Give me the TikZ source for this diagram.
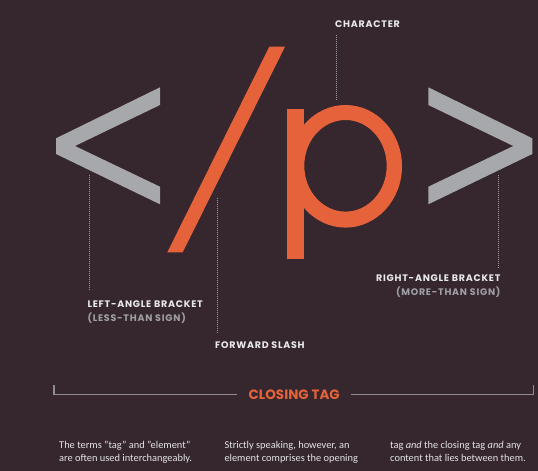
\documentclass[tikz,border=0pt]{standalone}
\usepackage{fontspec}
\setmainfont{Carlito}
\newfontfamily\labfont{Poppins}[LetterSpace=8]
\newfontfamily\tagfont{Poppins}
\usetikzlibrary{positioning,calc}
\definecolor{bgdark}{HTML}{35272D}
\definecolor{tagorange}{HTML}{E5623A}
\definecolor{brgray}{HTML}{A7A8AB}
\definecolor{labwhite}{HTML}{E9E9EE}
\definecolor{subgray}{HTML}{A09FA6}
\definecolor{dotgray}{HTML}{9A9A9E}
\definecolor{linegray}{HTML}{908D92}
\definecolor{bodytext}{HTML}{E4E4E6}

\begin{document}
\begin{tikzpicture}[
  x=1pt, y=-1pt,
  lab/.style={font=\labfont\bfseries\fontsize{9.5}{11}\selectfont, text=labwhite, inner sep=0pt},
  sublab/.style={lab, text=subgray},
  leader/.style={dotgray, line width=0.9pt, dash pattern=on 0.9pt off 1.1pt},
  brk/.style={linegray, line width=1.3pt},
  body/.style={font=\fontsize{10.4}{12.7}\selectfont, text=bodytext, inner sep=0pt, align=left, anchor=north west},
]
\useasboundingbox (0,0) rectangle (538,471);
\fill[bgdark] (0,0) rectangle (538,471);

% === glyphs ===
\fill[brgray] (160,87.3) -- (56,138.3) -- (56,154) -- (160,204.3) -- (160,186.7) -- (75,146) -- (160,105) -- cycle;
\fill[tagorange] (269.3,46.7) -- (285,46.7) -- (182.7,252.3) -- (167.3,252.3) -- cycle;
\fill[tagorange] (286.7,109) rectangle (304.3,259.3);
\fill[tagorange, even odd rule] (345.5,166.3) ellipse [x radius=56.5, y radius=61.3]
  (345.5,165.8) ellipse [x radius=41.2, y radius=45.8];
\fill[brgray] (428.3,87.3) -- (532.3,138.3) -- (532.3,154) -- (428.3,204.3) -- (428.3,186.7) -- (513.3,146) -- (428.3,105) -- cycle;

% === labels ===
\node[lab, anchor=base west] (chlab) at (335,27.3) {CHARACTER};
\node[lab, anchor=base west] (ltlab) at (87.3,307.3) {LEFT-ANGLE BRACKET};
\node[sublab, anchor=base west] (ltsub) at (87.3,321) {(LESS-THAN SIGN)};
\node[lab, anchor=base west] (fslab) at (215,348.3) {FORWARD SLASH};
\node[lab, anchor=base east] (rtlab) at (500.7,281) {RIGHT-ANGLE BRACKET};
\node[sublab, anchor=base east] (rtsub) at (500.7,295) {(MORE-THAN SIGN)};

% leader ends on the glyphs
\coordinate (chend) at (336.7,99.3);
\coordinate (ltend) at (89.3,175);
\coordinate (fsend) at (217.3,198.3);
\coordinate (rtend) at (498.3,175);

\draw[leader, shorten <=7pt] (chend |- chlab.south) -- (chend);
\draw[leader, shorten >=10.5pt] (ltend) -- (ltend |- ltlab.north);
\draw[leader, shorten >=8.7pt] (fsend) -- (fsend |- fslab.north);
\draw[leader, shorten >=5.7pt] (rtend) -- (rtend |- rtlab.north);

% === closing tag ===
\node[font=\tagfont\bfseries\fontsize{13.5}{15}\selectfont, text=tagorange, inner xsep=11.3pt, inner ysep=0pt] (ctag) at (294.2,394.4) {CLOSING TAG};
\coordinate (ctl) at (54,385);
\coordinate (ctr) at (533.3,385);
\draw[brk] (ctl) -- (ctl |- ctag) -- (ctag.west);
\draw[brk] (ctag.east) -- (ctr |- ctag) -- (ctr);

% === notes ===
\node[body] (note1) at (59,441.4) {The terms "tag" and "element"\\are often used interchangeably.};
\node[body] (note2) at (224.3,441.4) {Strictly speaking, however, an\\element comprises the opening};
\node[body] (note3) at (390,441.4) {tag \emph{and} the closing tag \emph{and} any\\content that lies between them.};

\end{tikzpicture}
\end{document}
